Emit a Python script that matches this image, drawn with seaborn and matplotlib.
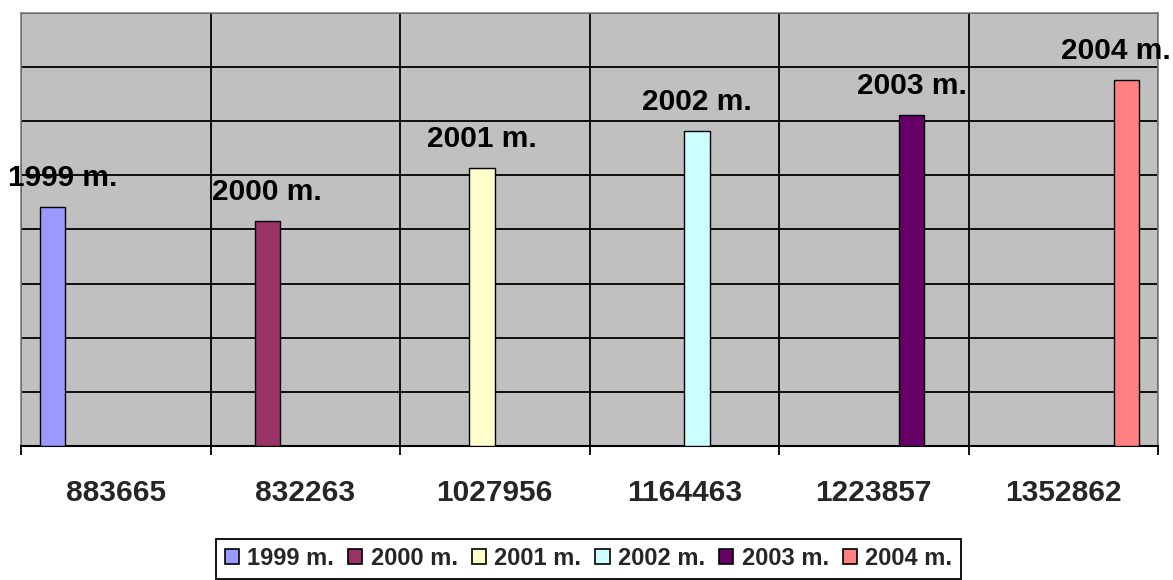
import matplotlib
matplotlib.use("Agg")
import matplotlib.pyplot as plt
import seaborn as sns
import pandas as pd
import numpy as np

# ---- data ----
categories = ["883665", "832263", "1027956", "1164463", "1223857", "1352862"]
years = ["1999 m.", "2000 m.", "2001 m.", "2002 m.", "2003 m.", "2004 m."]
values = [883665, 832263, 1027956, 1164463, 1223857, 1352862]
colors = ["#9999FF", "#993366", "#FFFFCC", "#CCFFFF", "#660066", "#FF8080"]

df = pd.DataFrame({"cat": categories, "year": years, "value": values})

sns.set_theme(style="white")
plt.rcParams["font.family"] = ["Liberation Sans", "DejaVu Sans"]

W, H = 1173, 580
fig = plt.figure(figsize=(W / 100, H / 100), dpi=100)
ax = fig.add_axes([21 / W, 1 - 446 / H, (1158 - 21) / W, (446 - 13) / H])

sns.barplot(data=df, x="cat", y="value", hue="year", order=categories,
            hue_order=years, palette=colors, edgecolor="black", linewidth=1,
            dodge=True, width=0.8, ax=ax, saturation=1, zorder=3)

ax.set_facecolor("#C0C0C0")
ax.set_ylim(0, 1600000)
ax.set_xlim(-0.5, len(categories) - 0.5)
ax.set_yticks(np.arange(0, 1600001, 200000))
ax.set_yticklabels([])
ax.tick_params(axis="y", length=0)
ax.yaxis.grid(True, color="black", linewidth=1.3, zorder=1)
ax.set_axisbelow(True)

ax.set_xticks(range(len(categories)))
ax.set_xticklabels(categories, fontsize=21.5, fontweight="bold")
ax.set_xticks(np.arange(-0.5, len(categories)), minor=True)
ax.tick_params(axis="x", which="major", length=0, pad=24)
ax.tick_params(axis="x", which="minor", length=6.5, width=1.3, color="black",
               direction="out", bottom=True)
ax.xaxis.grid(True, which="minor", color="black", linewidth=1.3)
ax.xaxis.grid(False, which="major")
ax.set_xlabel("")
ax.set_ylabel("")

for side in ["top", "left", "right"]:
    ax.spines[side].set_color("#808080")
    ax.spines[side].set_linewidth(1.2)
ax.spines["bottom"].set_color("black")
ax.spines["bottom"].set_linewidth(1.5)

# data labels
texts = []
for cont, yr in zip(ax.containers, years):
    for bar in cont:
        h = bar.get_height()
        if np.isnan(h) or h == 0:
            continue
        t = ax.annotate(yr, (bar.get_x() + bar.get_width() / 2, h),
                        xytext=(0, 15), textcoords="offset points",
                        ha="center", va="baseline", fontsize=21.5,
                        fontweight="bold", color="black", zorder=5,
                        annotation_clip=False)
        texts.append(t)

# legend
leg = ax.legend(loc="upper center", bbox_to_anchor=(588.5 / W, 1 - 539 / H),
                bbox_transform=fig.transFigure, ncol=6, frameon=True,
                fancybox=False, framealpha=1, edgecolor="black",
                prop={"size": 17, "weight": "bold"}, handlelength=0.6,
                handleheight=0.6, handletextpad=0.35, columnspacing=0.6,
                borderpad=0.35, borderaxespad=0)
leg.get_frame().set_linewidth(1.3)
for hnd in leg.legend_handles:
    hnd.set_edgecolor("black")
    hnd.set_linewidth(1.2)

# keep labels inside the chart area
fig.canvas.draw()
r = fig.canvas.get_renderer()
for t in texts:
    bb = t.get_window_extent(r)
    dx = 0
    if bb.x0 < 8:
        dx = 8 - bb.x0
    elif bb.x1 > W - 2:
        dx = (W - 2) - bb.x1
    if dx:
        ox, oy = t.xyann
        t.xyann = (ox + dx * 72 / 100, oy)

fig.savefig("out.png", dpi=100)
